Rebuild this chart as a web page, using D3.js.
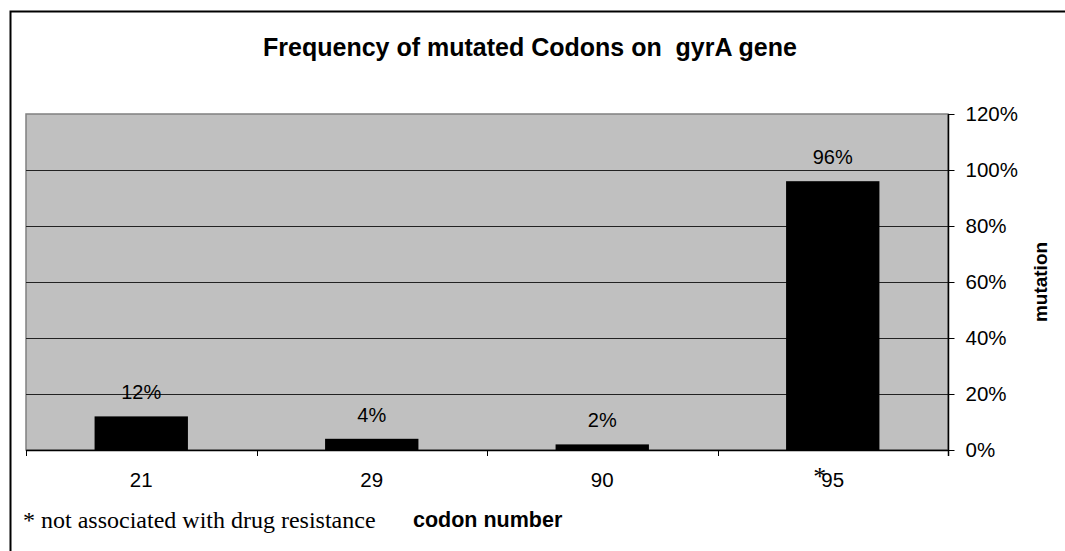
<!DOCTYPE html>
<html>
<head>
<meta charset="utf-8">
<script src="https://cdn.jsdelivr.net/npm/d3@7"></script>
<style>
  html, body { margin: 0; padding: 0; background: #fff; }
  svg { display: block; font-family: "Liberation Sans", Arial, sans-serif; }
</style>
</head>
<body>
<svg id="chart" width="1065" height="551"></svg>
<script>
// ---- data ----
const categories = ["21", "29", "90", "95"];
const frequencies = [0.12, 0.04, 0.02, 0.96];
const dataLabels = ["12%", "4%", "2%", "96%"];
const yTicks = [0, 0.2, 0.4, 0.6, 0.8, 1.0, 1.2];
const titleText = "Frequency of mutated Codons on  gyrA gene";
const xTitle = "codon number";
const yTitle = "mutation";
const footnote = "* not associated with drug resistance";
const markedCategory = "95";

const SANS = "'Liberation Sans', Arial, sans-serif";
const SERIF = "'Liberation Serif', 'Times New Roman', serif";

const svg = d3.select("#chart");

// outer frame
svg.append("rect")
  .attr("x", 10.5).attr("y", 11.5)
  .attr("width", 1100).attr("height", 600)
  .attr("fill", "none").attr("stroke", "#000").attr("stroke-width", 2);

const plot = { left: 26, right: 948, top: 114, bottom: 450 };

const x = d3.scaleBand().domain(categories).range([plot.left, plot.right]).padding(0);
const y = d3.scaleLinear().domain([0, 1.2]).range([plot.bottom, plot.top]);

// plot background
svg.append("rect")
  .attr("x", plot.left).attr("y", plot.top)
  .attr("width", plot.right - plot.left).attr("height", plot.bottom - plot.top)
  .attr("fill", "#c0c0c0").attr("stroke", "#808080").attr("stroke-width", 1.5);

// gridlines
svg.append("g").selectAll("line")
  .data(yTicks.filter(t => t > 0 && t < 1.2))
  .join("line")
  .attr("x1", plot.left).attr("x2", plot.right)
  .attr("y1", d => Math.round(y(d)) + 0.5).attr("y2", d => Math.round(y(d)) + 0.5)
  .attr("stroke", "#222").attr("stroke-width", 1);

// bars
const barW = x.bandwidth() * 0.405;
svg.append("g").selectAll("rect")
  .data(categories)
  .join("rect")
  .attr("x", (d) => x(d) + (x.bandwidth() - barW) / 2)
  .attr("y", (d, i) => y(frequencies[i]))
  .attr("width", barW)
  .attr("height", (d, i) => y(0) - y(frequencies[i]))
  .attr("fill", "#000");

// data labels
svg.append("g").selectAll("text")
  .data(categories)
  .join("text")
  .attr("x", d => x(d) + x.bandwidth() / 2)
  .attr("y", (d, i) => y(frequencies[i]) - 17)
  .attr("text-anchor", "middle")
  .attr("font-size", 20)
  .style("font-family", SANS)
  .text((d, i) => dataLabels[i]);

// right y axis
const yAxis = d3.axisRight(y)
  .tickValues(yTicks)
  .tickFormat(d3.format(".0%"))
  .tickSize(6).tickSizeOuter(0).tickPadding(11);
const gy = svg.append("g")
  .attr("transform", `translate(${plot.right + 0.5},0)`)
  .call(yAxis);
gy.select(".domain").attr("stroke", "#000").attr("stroke-width", 1.5)
  .attr("d", `M0,${plot.top}V${plot.bottom + 6}`);
gy.selectAll(".tick line").attr("stroke", "#000");
gy.selectAll(".tick text").attr("font-size", 20.5)
  .style("font-family", SANS).attr("fill", "#000");

// x axis line + boundary ticks
const gx = svg.append("g");
gx.append("line")
  .attr("x1", plot.left).attr("x2", plot.right)
  .attr("y1", plot.bottom + 0.5).attr("y2", plot.bottom + 0.5)
  .attr("stroke", "#000").attr("stroke-width", 1.5);
const boundaries = categories.map(c => x(c)).concat([x.range()[1]]);
gx.selectAll("line.tk")
  .data(boundaries)
  .join("line").attr("class", "tk")
  .attr("x1", d => Math.round(d) + 0.5).attr("x2", d => Math.round(d) + 0.5)
  .attr("y1", plot.bottom).attr("y2", plot.bottom + 6)
  .attr("stroke", "#000");

// x tick labels
const xAxis = d3.axisBottom(x).tickSize(0).tickPadding(0);
const gxl = svg.append("g").attr("transform", `translate(0,${plot.bottom})`).call(xAxis);
gxl.select(".domain").remove();
gxl.selectAll(".tick text")
  .attr("y", 37).attr("dy", 0)
  .attr("font-size", 20.5)
  .style("font-family", SANS).attr("fill", "#000");

// asterisk on marked category
svg.append("text")
  .attr("x", x(markedCategory) + x.bandwidth() / 2 - 13)
  .attr("y", 485)
  .attr("text-anchor", "middle")
  .style("font-family", SERIF)
  .attr("font-size", 26)
  .text("*");

// title
svg.append("text")
  .attr("x", 530).attr("y", 56)
  .attr("text-anchor", "middle")
  .attr("font-size", 25).attr("font-weight", "bold")
  .style("font-family", SANS)
  .style("white-space", "pre")
  .text(titleText);

// y axis title
svg.append("text")
  .attr("transform", "translate(1047,282) rotate(-90)")
  .attr("text-anchor", "middle")
  .attr("font-size", 19).attr("font-weight", "bold")
  .style("font-family", SANS)
  .text(yTitle);

// x axis title
svg.append("text")
  .attr("x", 413).attr("y", 527)
  .attr("font-size", 21.5).attr("font-weight", "bold")
  .style("font-family", SANS)
  .text(xTitle);

// footnote
svg.append("text")
  .attr("x", 23).attr("y", 528)
  .style("font-family", SERIF)
  .attr("font-size", 24)
  .text(footnote);
</script>
</body>
</html>
